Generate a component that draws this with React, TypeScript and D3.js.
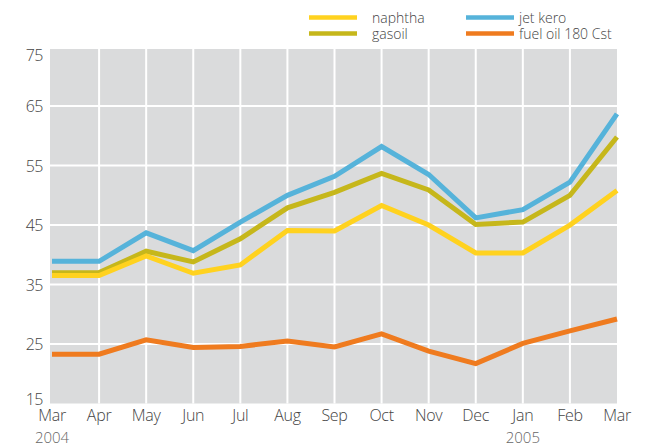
import React from "react";
import * as d3 from "d3";

const months = ["Mar", "Apr", "May", "Jun", "Jul", "Aug", "Sep", "Oct", "Nov", "Dec", "Jan", "Feb", "Mar"];
const monthKeys = months.map((m, i) => `${m}-${i}`);
const yearLabels = [
  { index: 0, label: "2004" },
  { index: 10, label: "2005" },
];
const yTicks = [15, 25, 35, 45, 55, 65, 75];

const naphtha = [36.5, 36.5, 39.8, 36.9, 38.3, 44.1, 44.0, 48.3, 45.0, 40.3, 40.3, 45.0, 50.8];
const gasoil = [37.0, 37.0, 40.6, 38.8, 42.7, 47.9, 50.5, 53.7, 50.9, 45.1, 45.5, 50.0, 59.8];
const jetKero = [38.9, 38.9, 43.7, 40.7, 45.5, 50.0, 53.2, 58.2, 53.5, 46.2, 47.6, 52.2, 63.7];
const fuelOil = [23.3, 23.3, 25.7, 24.4, 24.6, 25.5, 24.5, 26.7, 23.8, 21.7, 25.1, 27.2, 29.2];

const seriesNames = ["naphtha", "gasoil", "jet kero", "fuel oil 180 Cst"];
const seriesColors = ["#FFD21F", "#C6B71B", "#56B3DA", "#EF7B1F"];
const seriesData = [naphtha, gasoil, jetKero, fuelOil];

const W = 646;
const H = 446;
const plotLeft = 50;
const plotRight = 617;
const plotTop = 49;
const plotBottom = 403.5;

export default function App() {
  const x = d3.scalePoint<string>().domain(monthKeys).range([52, 617]);
  const y = d3.scaleLinear().domain([15, 74.6]).range([plotBottom, plotTop]);
  const line = d3
    .line<number>()
    .x((_, i) => x(monthKeys[i]) as number)
    .y((d) => y(d));

  const drawOrder = [3, 2, 1, 0];
  const font = "'Open Sans', Lato, sans-serif";
  const legendCols = [
    { sx: 309, tx: 372, items: [0, 1] },
    { sx: 466, tx: 519, items: [2, 3] },
  ];
  const rowY = [17.5, 33.5];

  return (
    <svg
      width={W}
      height={H}
      style={{ position: "absolute", left: 0, top: 0, background: "#fff" }}
      fontFamily={font}
      fontWeight={300}
    >
      <rect x={plotLeft} y={plotTop} width={plotRight - plotLeft} height={plotBottom - plotTop} fill="#DADBDC" />
      {yTicks
        .filter((t) => t > 15 && t < 75)
        .map((t) => (
          <line key={t} x1={plotLeft} x2={plotRight} y1={y(t)} y2={y(t)} stroke="#fff" strokeWidth={2} />
        ))}
      {monthKeys.slice(1, -1).map((k) => (
        <line key={k} x1={x(k)} x2={x(k)} y1={plotTop} y2={plotBottom} stroke="#fff" strokeWidth={2} />
      ))}
      {drawOrder.map((si) => (
        <path
          key={si}
          d={line(seriesData[si]) || ""}
          fill="none"
          stroke={seriesColors[si]}
          strokeWidth={5}
          strokeLinejoin="miter"
        />
      ))}
      {yTicks.map((t) => {
        let yy = y(t) + 6;
        if (t === 75) yy = 61;
        if (t === 15) yy = 405;
        return (
          <text key={t} x={43} y={yy} textAnchor="end" fontSize={16} fill="#444" letterSpacing={-0.5}>
            {t}
          </text>
        );
      })}
      {monthKeys.map((k, i) => (
        <text key={k} x={x(k)} y={421} textAnchor="middle" fontSize={16} fill="#444" letterSpacing={-0.3}>
          {months[i]}
        </text>
      ))}
      {yearLabels.map((yl) => (
        <text key={yl.label} x={x(monthKeys[yl.index])} y={443} textAnchor="middle" fontSize={15} fill="#666">
          {yl.label}
        </text>
      ))}
      {legendCols.map((col, ci) => (
        <g key={ci}>
          {col.items.map((si, r) => (
            <line
              key={si}
              x1={col.sx}
              x2={col.sx + 48}
              y1={rowY[r]}
              y2={rowY[r]}
              stroke={seriesColors[si]}
              strokeWidth={4.5}
            />
          ))}
          <text fontSize={14} fill="#444">
            {col.items.map((si, r) => (
              <tspan key={si} x={col.tx} y={rowY[r] + 5}>
                {seriesNames[si]}
              </tspan>
            ))}
          </text>
        </g>
      ))}
    </svg>
  );
}
